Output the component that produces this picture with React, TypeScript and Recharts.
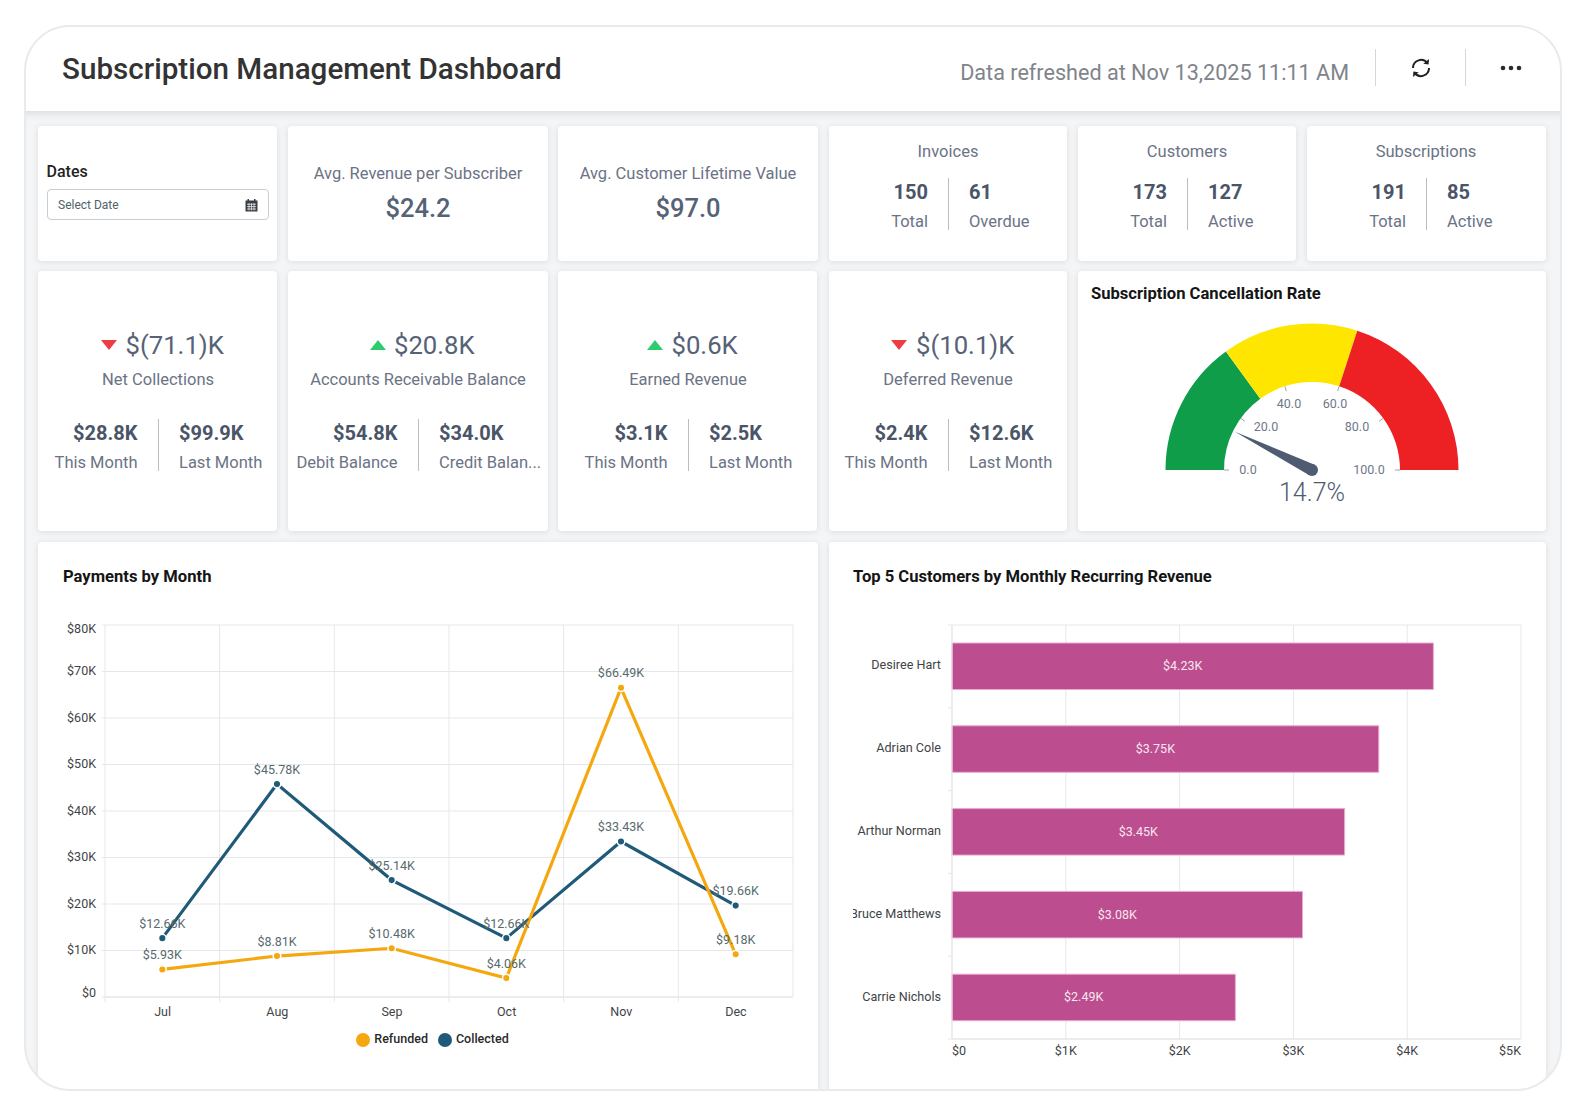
import React from 'react';
import { LineChart, Line, BarChart, Bar, PieChart, Pie, Cell, XAxis, YAxis, CartesianGrid, Legend, LabelList } from 'recharts';

const months = ['Jul', 'Aug', 'Sep', 'Oct', 'Nov', 'Dec'];
const refunded = [5.93, 8.81, 10.48, 4.06, 66.49, 9.18];
const collected = [12.66, 45.78, 25.14, 12.66, 33.43, 19.66];
const paymentTicks = [0, 10, 20, 30, 40, 50, 60, 70, 80];

const customers = ['Desiree Hart', 'Adrian Cole', 'Arthur Norman', 'Bruce Matthews', 'Carrie Nichols'];
const mrr = [4.23, 3.75, 3.45, 3.08, 2.49];
const mrrTicks = [0, 1, 2, 3, 4, 5];

const gaugeBands = [30, 30, 40];
const gaugeColors = ['#0f9d4a', '#ffe600', '#ed2024'];
const gaugeTicks = [0, 20, 40, 60, 80, 100];
const gaugeValue = 14.7;

const paymentRows = months.map((m, i) => ({ month: m, Refunded: refunded[i], Collected: collected[i] }));
const mrrRows = customers.map((c, i) => ({ name: c, value: mrr[i] }));
const gaugeRows = gaugeBands.map((v, i) => ({ name: 'band' + i, value: v }));

const headlineCards = [
  { title: 'Avg. Revenue per Subscriber', value: '$24.2' },
  { title: 'Avg. Customer Lifetime Value', value: '$97.0' },
];
const pairCards = [
  { title: 'Invoices', a: '150', aLabel: 'Total', b: '61', bLabel: 'Overdue' },
  { title: 'Customers', a: '173', aLabel: 'Total', b: '127', bLabel: 'Active' },
  { title: 'Subscriptions', a: '191', aLabel: 'Total', b: '85', bLabel: 'Active' },
];
const trendCards = [
  { value: '$(71.1)K', up: false, title: 'Net Collections', a: '$28.8K', aLabel: 'This Month', b: '$99.9K', bLabel: 'Last Month' },
  { value: '$20.8K', up: true, title: 'Accounts Receivable Balance', a: '$54.8K', aLabel: 'Debit Balance', b: '$34.0K', bLabel: 'Credit Balan...' },
  { value: '$0.6K', up: true, title: 'Earned Revenue', a: '$3.1K', aLabel: 'This Month', b: '$2.5K', bLabel: 'Last Month' },
  { value: '$(10.1)K', up: false, title: 'Deferred Revenue', a: '$2.4K', aLabel: 'This Month', b: '$12.6K', bLabel: 'Last Month' },
];

const FONT = 'Roboto, sans-serif';
const GRID = '#e6e7ea';
const LABEL = '#6b7385';
const VALUE = '#566276';
const BOLD = '#4a5568';

const T = ({ x, y, a = 'l', size = 16, w = 400, c = LABEL, ls = 0, children }: any) => (
  <div style={{
    position: 'absolute', left: x, top: y + 1, whiteSpace: 'nowrap', fontFamily: FONT, fontSize: size, fontWeight: w,
    color: c, letterSpacing: ls, lineHeight: 1,
    transform: `translate(${a === 'c' ? '-50%' : a === 'r' ? '-100%' : '0'}, -50%)`,
  }}>{children}</div>
);

const Card = ({ x, y, r, b }: any) => (
  <div style={{ position: 'absolute', left: x, top: y, width: r - x, height: b - y, background: '#fff', borderRadius: 4, boxShadow: '0 1px 6px rgba(60,70,80,0.13)' }} />
);

const Rule = ({ x, y1, y2, c = '#b9bdc4' }: any) => (
  <div style={{ position: 'absolute', left: x, top: y1, width: 1, height: y2 - y1, background: c }} />
);

const Tri = ({ x, y, up }: any) => (
  <div style={{
    position: 'absolute', left: x, top: y, width: 0, height: 0,
    borderLeft: '8px solid transparent', borderRight: '8px solid transparent',
    [up ? 'borderBottom' : 'borderTop']: `10px solid ${up ? '#2ecc71' : '#ef3e42'}`,
  }} />
);

const LINE_PLOT_W = 688;
const LineXTick = ({ x, y, payload }: any) => {
  const band = LINE_PLOT_W / months.length;
  return (
    <g>
      <line x1={x - band / 2} x2={x - band / 2} y1={y} y2={y + 5} stroke={GRID} />
      <text x={x + 0.3} y={y + 14} textAnchor="middle" dominantBaseline="central" fontFamily={FONT} fontSize={12.5} fill="#3f4447">{payload.value}</text>
    </g>
  );
};
const LineYTick = ({ x, y, payload }: any) => {
  const shift = payload.value === 80 ? 3 : payload.value === 0 ? -5 : -0.7;
  return <text x={x} y={y + shift} textAnchor="end" dominantBaseline="central" fontFamily={FONT} fontSize={12.5} fill="#3f4447">{payload.value === 0 ? '$0' : `$${payload.value}K`}</text>;
};

const BAR_BAND = 82.8;
const BarXTick = ({ x, y, payload }: any) => {
  const anchor = payload.value === 0 ? 'start' : payload.value === 5 ? 'end' : 'middle';
  return <text x={x} y={y + 11} textAnchor={anchor} dominantBaseline="central" fontFamily={FONT} fontSize={12.5} fill="#3f4447">{`$${payload.value}${payload.value === 0 ? '' : 'K'}`}</text>;
};
const BarYTick = ({ x, y, payload, index }: any) => (
  <g>
    <line x1={x + 7} x2={x + 11} y1={y + BAR_BAND / 2} y2={y + BAR_BAND / 2} stroke={GRID} />
    {index === 0 && <line x1={x + 7} x2={x + 11} y1={y - BAR_BAND / 2} y2={y - BAR_BAND / 2} stroke={GRID} />}
    <text x={x} y={y - 1.5} textAnchor="end" dominantBaseline="central" fontFamily={FONT} fontSize={12.6} fill="#3f4447">{payload.value}</text>
  </g>
);
const BarLabel = ({ x, y, width, height, value }: any) => (
  <text x={x + width / 2 - 10} y={y + height / 2 - 0.5} textAnchor="middle" dominantBaseline="central" fontFamily={FONT} fontSize={12.5} fill="#f7e6f1">{`$${value.toFixed(2)}K`}</text>
);

const GAUGE_CX = 208;
const GAUGE_CY = 170;
const GAUGE_OUT = 146.5;
const GAUGE_IN = 88;
const polar = (value: number, r: number) => {
  const a = Math.PI * (1 - value / 100);
  return { x: GAUGE_CX + r * Math.cos(a), y: GAUGE_CY - r * Math.sin(a) };
};
const GaugeOverlay = () => {
  const labelNudge = [[-64, -1], [-46, -44], [-23, -67], [23, -67], [45, -44], [57, -1]];
  const tip = polar(gaugeValue, 86);
  const n = { x: (tip.x - GAUGE_CX) / 86, y: (tip.y - GAUGE_CY) / 86 };
  const hw = 6;
  const pts = `${tip.x},${tip.y} ${GAUGE_CX - n.y * hw},${GAUGE_CY + n.x * hw} ${GAUGE_CX + n.y * hw},${GAUGE_CY - n.x * hw}`;
  return (
    <g>
      {gaugeTicks.map((t, i) => {
        const p = polar(t, GAUGE_IN);
        const q = polar(t, GAUGE_IN - 5);
        return (
          <g key={t}>
            <line x1={p.x} y1={p.y} x2={q.x} y2={q.y} stroke="#9aa0ab" />
            <text x={GAUGE_CX + labelNudge[i][0]} y={GAUGE_CY + labelNudge[i][1]} textAnchor="middle" dominantBaseline="central" fontFamily={FONT} fontSize={12.5} fill="#70778a">{t.toFixed(1)}</text>
          </g>
        );
      })}
      <polygon points={pts} fill="#4f5b73" />
      <circle cx={GAUGE_CX} cy={GAUGE_CY} r={6} fill="#4f5b73" />
      <text x={GAUGE_CX} y={GAUGE_CY + 22} textAnchor="middle" dominantBaseline="central" fontFamily={FONT} fontSize={25} fontWeight={300} fill="#4f5b73">{`${gaugeValue}%`}</text>
    </g>
  );
};

const RefreshIcon = () => (
  <svg style={{ position: 'absolute', left: 1410, top: 57 }} width="22" height="22" viewBox="0 0 22 22" fill="none" stroke="#222" strokeWidth="2">
    <path d="M3 11 A8 8 0 0 1 17.5 6.3" />
    <path d="M19 11 A8 8 0 0 1 4.5 15.7" />
    <path d="M19 2 L18.6 7.6 L13.4 6.8 Z" fill="#222" stroke="none" />
    <path d="M3 20 L3.4 14.4 L8.6 15.2 Z" fill="#222" stroke="none" />
  </svg>
);
const DotsIcon = () => (
  <svg style={{ position: 'absolute', left: 1499, top: 62 }} width="24" height="12" viewBox="0 0 24 12" fill="#2b2b2b">
    <circle cx="4" cy="6" r="2.3" /><circle cx="12" cy="6" r="2.3" /><circle cx="20" cy="6" r="2.3" />
  </svg>
);
const CalendarIcon = () => (
  <svg style={{ position: 'absolute', left: 245, top: 199 }} width="13" height="13" viewBox="0 0 13 13">
    <rect x="0.5" y="1.5" width="12" height="11" fill="#3a3f45" />
    <rect x="2.5" y="0" width="1.5" height="3" fill="#3a3f45" /><rect x="9" y="0" width="1.5" height="3" fill="#3a3f45" />
    <path d="M2 5.2H11M2 7.6H11M2 10H11M4 4.2V11.4M6.5 4.2V11.4M9 4.2V11.4" stroke="#fff" strokeWidth="0.7" />
  </svg>
);

export default function App() {
  return (
    <div style={{ position: 'absolute', left: 0, top: 0, width: 1586, height: 1112, background: '#fff', overflow: 'hidden' }}>
      <div style={{ position: 'absolute', left: 24, top: 25, width: 1538, height: 1066, boxSizing: 'border-box', border: '2px solid #e9eaeb', borderRadius: 46, background: '#f4f5f6', overflow: 'hidden' }}>
        <div style={{ position: 'absolute', left: -26, top: -27, width: 1586, height: 1112 }}>
          {/* header */}
          <div style={{ position: 'absolute', left: 0, top: 0, width: 1586, height: 111, background: '#fff', boxShadow: '0 2px 8px rgba(60,70,80,0.16)' }} />
          <T x={62} y={69} size={29.6} w={500} c="#333">Subscription Management Dashboard</T>
          <T x={1349} y={72} a="r" size={21.6} c="#80848a">Data refreshed at Nov 13,2025 11:11 AM</T>
          <Rule x={1375} y1={49} y2={86} c="#d5d7da" />
          <Rule x={1465} y1={49} y2={86} c="#d5d7da" />
          <RefreshIcon />
          <DotsIcon />

          {/* first row */}
          <Card x={38} y={126} r={277} b={261} />
          <T x={46.5} y={171} size={16} w={500} c="#222">Dates</T>
          <div style={{ position: 'absolute', left: 47, top: 189, width: 222, height: 31, boxSizing: 'border-box', border: '1px solid #c9ccd0', borderRadius: 4, background: '#fff' }} />
          <T x={58} y={204} size={12} c="#4f6268">Select Date</T>
          <CalendarIcon />

          {headlineCards.map((c, i) => {
            const cx = [418, 688][i];
            const left = [288, 558][i];
            return (
              <React.Fragment key={c.title}>
                <Card x={left} y={126} r={left + 260} b={261} />
                <T x={cx} y={173} a="c" size={16.5}>{c.title}</T>
                <T x={cx} y={208} a="c" size={25.5} w={500} c={VALUE}>{c.value}</T>
              </React.Fragment>
            );
          })}
          {pairCards.map((c, i) => {
            const left = [829, 1078, 1307][i];
            const right = [1067, 1296, 1546][i];
            const div = [948, 1187, 1426][i];
            return (
              <React.Fragment key={c.title}>
                <Card x={left} y={126} r={right} b={261} />
                <T x={div} y={151} a="c" size={16.5}>{c.title}</T>
                <Rule x={div} y1={178} y2={230} />
                <T x={div - 20} y={191} a="r" size={20} w={700} c={BOLD}>{c.a}</T>
                <T x={div - 20} y={221} a="r" size={16.5}>{c.aLabel}</T>
                <T x={div + 21} y={191} size={20} w={700} c={BOLD}>{c.b}</T>
                <T x={div + 21} y={221} size={16.5}>{c.bLabel}</T>
              </React.Fragment>
            );
          })}

          {/* second row */}
          {trendCards.map((c, i) => {
            const left = [38, 288, 558, 829][i];
            const right = [277, 548, 817, 1067][i];
            const cx = [158, 418, 688, 948][i];
            const div = [158, 418, 688, 948][i];
            const triX = [101, 370, 647, 891][i];
            const valX = [125.5, 394, 671.5, 916][i];
            return (
              <React.Fragment key={c.title}>
                <Card x={left} y={271} r={right} b={531} />
                <Tri x={triX} y={340} up={c.up} />
                <T x={valX} y={345} size={25.7} c={VALUE}>{c.value}</T>
                <T x={cx} y={378.5} a="c" size={16.5}>{c.title}</T>
                <Rule x={div} y1={419} y2={471} />
                <T x={div - 20.5} y={432} a="r" size={20} w={700} c={BOLD}>{c.a}</T>
                <T x={div - 20.5} y={462} a="r" size={16.5}>{c.aLabel}</T>
                <T x={div + 21} y={432} size={20} w={700} c={BOLD}>{c.b}</T>
                <T x={div + 21} y={462} size={16.5}>{c.bLabel}</T>
              </React.Fragment>
            );
          })}

          {/* gauge */}
          <Card x={1078} y={271} r={1546} b={531} />
          <T x={1091} y={293} size={16.6} w={700} c="#151515">Subscription Cancellation Rate</T>
          <div style={{ position: 'absolute', left: 1104, top: 300 }}>
            <PieChart width={416} height={225} margin={{ top: 0, right: 0, bottom: 0, left: 0 }}>
              <Pie data={gaugeRows} dataKey="value" cx={GAUGE_CX} cy={GAUGE_CY} startAngle={180} endAngle={0} innerRadius={GAUGE_IN} outerRadius={GAUGE_OUT} stroke="none" isAnimationActive={false}>
                {gaugeRows.map((r, i) => <Cell key={r.name} fill={gaugeColors[i]} />)}
              </Pie>
              <GaugeOverlay />
            </PieChart>
          </div>

          {/* payments */}
          <Card x={38} y={542} r={818} b={1120} />
          <T x={63} y={576} size={16.6} w={700} c="#151515">Payments by Month</T>
          <div style={{ position: 'absolute', left: 38, top: 600 }}>
            <LineChart width={780} height={461} data={paymentRows} margin={{ top: 25, right: 25, bottom: 0, left: 0 }}>
              <CartesianGrid
                stroke={GRID}
                verticalCoordinatesGenerator={({ offset }: any) => months.map((_, i) => offset.left + (i * offset.width) / months.length).concat(offset.left + offset.width)}
              />
              <XAxis dataKey="month" scale="band" height={34} tick={LineXTick} tickLine={false} tickSize={0} tickMargin={0} axisLine={{ stroke: GRID }} interval={0} />
              <YAxis type="number" domain={[0, 80]} ticks={paymentTicks} width={67} tick={LineYTick} tickSize={3} tickMargin={6} tickLine={{ stroke: GRID }} axisLine={false} interval={0} />
              <Legend height={30} iconType="circle" iconSize={14} itemSorter={(it: any) => (it.value === 'Refunded' ? 0 : 1)} wrapperStyle={{ left: 22, fontFamily: FONT, fontSize: 12.5, fontWeight: 500 }} formatter={(v: any) => <span style={{ color: '#2a2a2a' }}>{v}</span>} />
              <Line dataKey="Collected" stroke="#1f5a78" strokeWidth={3.2} isAnimationActive={false} dot={{ r: 3.8, fill: '#1f5a78', stroke: '#fff', strokeWidth: 1.5 }}>
                <LabelList dataKey="Collected" position="top" offset={10.5} fontFamily={FONT} fontSize={12.5} fill="#566a6e" formatter={(v: any) => `$${v.toFixed(2)}K`} />
              </Line>
              <Line dataKey="Refunded" stroke="#f5a70f" strokeWidth={3.2} isAnimationActive={false} dot={{ r: 3.8, fill: '#f5a70f', stroke: '#fff', strokeWidth: 1.5 }}>
                <LabelList dataKey="Refunded" position="top" offset={10.5} fontFamily={FONT} fontSize={12.5} fill="#566a6e" formatter={(v: any) => `$${v.toFixed(2)}K`} />
              </Line>
            </LineChart>
          </div>

          {/* top customers */}
          <Card x={829} y={542} r={1546} b={1120} />
          <T x={853} y={576} size={16.6} w={700} c="#151515">Top 5 Customers by Monthly Recurring Revenue</T>
          <div style={{ position: 'absolute', left: 853, top: 600 }}>
            <BarChart width={679} height={470} layout="vertical" data={mrrRows} margin={{ top: 25, right: 11, bottom: 0, left: 0 }}>
              <CartesianGrid
                stroke={GRID}
                horizontalCoordinatesGenerator={({ offset }: any) => [offset.top, offset.top + offset.height]}
              />
              <XAxis type="number" domain={[0, 5]} ticks={mrrTicks} height={31} tick={BarXTick} tickLine={false} tickSize={0} tickMargin={0} axisLine={{ stroke: GRID }} interval={0} />
              <YAxis type="category" dataKey="name" width={99} tick={BarYTick} tickLine={false} tickSize={0} tickMargin={11} axisLine={{ stroke: GRID }} interval={0} />
              <Bar dataKey="value" fill="#bc4e8f" stroke="#e9a9d0" strokeWidth={1} barSize={46.5} isAnimationActive={false}>
                <LabelList dataKey="value" content={BarLabel} />
              </Bar>
            </BarChart>
          </div>
        </div>
      </div>
    </div>
  );
}
